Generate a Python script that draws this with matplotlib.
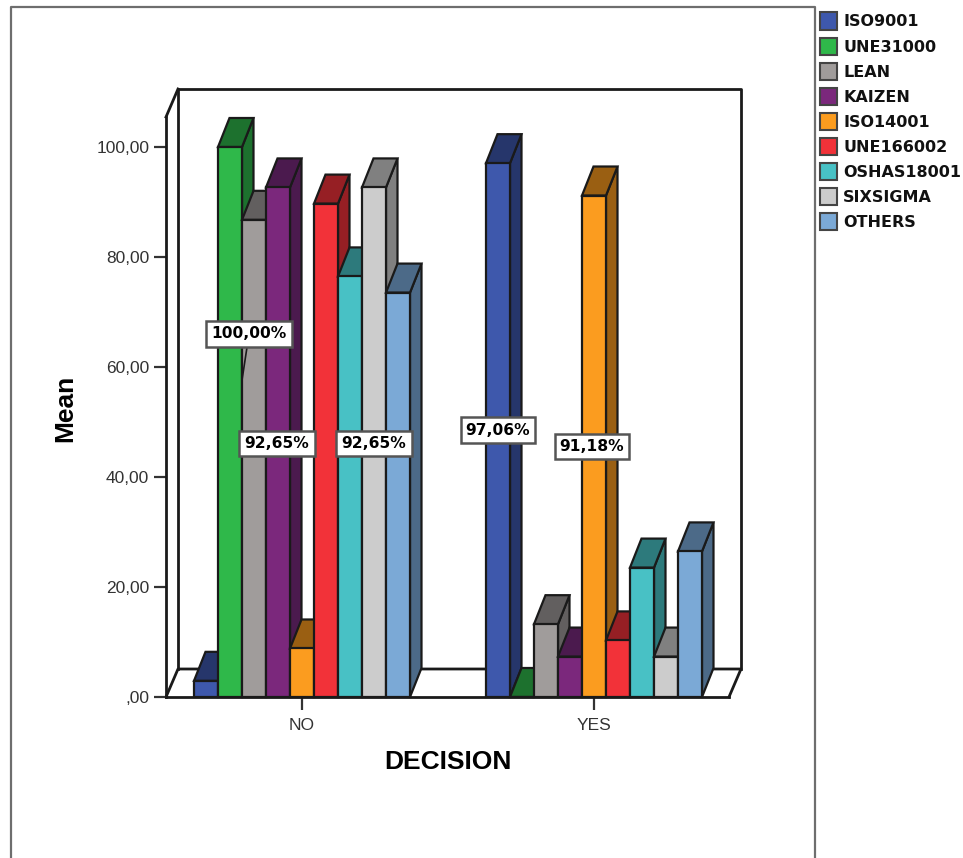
import matplotlib
matplotlib.use("Agg")
import matplotlib.pyplot as plt
from matplotlib.patches import Polygon, Rectangle
from matplotlib.lines import Line2D

W, H = 963, 858

categories = ["NO", "YES"]
series = ["ISO9001", "UNE31000", "LEAN", "KAIZEN", "ISO14001",
          "UNE166002", "OSHAS18001", "SIXSIGMA", "OTHERS"]
no_values = [2.94, 100.0, 86.76, 92.65, 8.82, 89.71, 76.47, 92.65, 73.53]
yes_values = [97.06, 0.0, 13.24, 7.35, 91.18, 10.29, 23.53, 7.35, 26.47]
front_colors = ["#3E58AC", "#2FB84A", "#A09C9B", "#7B287C", "#FB9C1F",
                "#F23239", "#48C1C5", "#CCCCCC", "#7BA9D6"]
dark_colors = ["#26366B", "#1D712E", "#625F5F", "#4B1A4E", "#9A5F12",
               "#961F24", "#2D7A7C", "#808080", "#4C6A88"]
y_ticks = [0, 20, 40, 60, 80, 100]
y_tick_labels = [",00", "20,00", "40,00", "60,00", "80,00", "100,00"]

LINE = "#1a1a1a"


def fig_box(left, top, right, bottom):
    return [left / W, 1 - bottom / H, (right - left) / W, (bottom - top) / H]


fig = plt.figure(figsize=(W / 100, H / 100), dpi=100, facecolor="white")
plt.rcParams["font.family"] = "Liberation Sans"

# outer frame of the chart area, runs off the bottom of the picture
fig.add_artist(Line2D([11 / W, 11 / W, 815 / W, 815 / W],
                      [0, 1 - 7 / H, 1 - 7 / H, 0],
                      color="#6e6e6e", lw=1.6))

ax = fig.add_axes(fig_box(166, 117, 729, 697))
ax.set_xlim(-136 / 292, 427 / 292)
ax.set_ylim(0, 580 / 5.5)
ax.patch.set_alpha(0)
for name in ["top", "right"]:
    ax.spines[name].set_visible(False)
for name in ["left", "bottom"]:
    ax.spines[name].set_linewidth(2)
    ax.spines[name].set_color(LINE)

ax.set_xticks(range(len(categories)))
ax.set_xticklabels(categories)
ax.set_yticks(y_ticks)
ax.set_yticklabels(y_tick_labels)
ax.tick_params(axis="both", labelsize=12.5, width=1.6, length=9, color="#333333",
               labelcolor="#333333", pad=3)
ax.tick_params(axis="x", length=9, pad=6, labelsize=12.5)
ax.set_xlabel("DECISION", fontsize=19, fontweight="bold")
ax.xaxis.set_label_coords((448 - 166) / 563, -(762 - 697) / 580)
ax.xaxis.label.set_verticalalignment("center")
ax.set_ylabel("Mean", fontsize=19, fontweight="bold")
ax.yaxis.set_label_coords((65 - 166) / 563, (697 - 408) / 580)
ax.yaxis.label.set_verticalalignment("center")

# depth of the 3D look, in data units
xlim0, xlim1 = ax.get_xlim()
ymax = ax.get_ylim()[1]
wall_dx = 12 / 292
wall_dy = 28 / 5.5
bar_dx = 11.5 / 292
bar_dy = 29 / 5.5
bar_w = 24 / 292

# back wall and floor
wall_style = dict(color=LINE, lw=2, clip_on=False, zorder=1)
ax.plot([xlim0 + wall_dx, xlim0 + wall_dx, xlim1 + wall_dx, xlim1 + wall_dx],
        [wall_dy, ymax + wall_dy, ymax + wall_dy, wall_dy], **wall_style)
ax.plot([xlim0, xlim0 + wall_dx, xlim1 + wall_dx, xlim1],
        [0, wall_dy, wall_dy, 0], **wall_style)
ax.plot([xlim0, xlim0 + wall_dx], [ymax, ymax + wall_dy], **wall_style)


def draw_bar(x, value, front, dark, z):
    edge = dict(edgecolor=LINE, lw=1.6, clip_on=False, zorder=z,
                joinstyle="miter")
    ax.add_patch(Polygon([(x, 0), (x + bar_dx, bar_dy),
                          (x + bar_dx, value + bar_dy), (x, value)],
                         facecolor=dark, **edge))
    ax.add_patch(Polygon([(x - bar_w, value), (x, value),
                          (x + bar_dx, value + bar_dy),
                          (x - bar_w + bar_dx, value + bar_dy)],
                         facecolor=dark, **edge))
    ax.bar(x - bar_w / 2, value, bar_w, color=front, edgecolor=LINE, lw=1.6,
           zorder=z, clip_on=False)


z = 2
for pos, values in enumerate([no_values, yes_values]):
    for i, value in enumerate(values):
        # right edge of bar i inside the cluster
        x = pos + (i - len(values) / 2 + 1) * bar_w
        draw_bar(x, value, front_colors[i], dark_colors[i], z)
        z += 1


def bar_center(pos, i):
    return pos + (i - len(series) / 2 + 0.5) * bar_w


box = dict(boxstyle="square,pad=0.33", facecolor="white", edgecolor="#555555",
           lw=1.8)
label_style = dict(ha="center", va="center", fontsize=11.2, fontweight="bold",
                   family="DejaVu Sans", bbox=box, zorder=60)

ax.text(bar_center(0, 3) - 1 / 292, no_values[3] / 2 - 0.2, "92,65%", **label_style)
ax.text(bar_center(0, 7), no_values[7] / 2 - 0.2, "92,65%", **label_style)
ax.text(bar_center(1, 0), yes_values[0] / 2, "97,06%", **label_style)
ax.text(bar_center(1, 4) - 2 / 292, yes_values[4] / 2, "91,18%", **label_style)
# the 100% label was moved by hand in the original, with a leader line
ax.annotate("100,00%", xy=(bar_center(0, 1) + 12 / 292, 57.6),
            xytext=(bar_center(0, 1) + 19 / 292, 66), annotation_clip=False,
            arrowprops=dict(arrowstyle="-", color=LINE, lw=1.2,
                            shrinkA=0, shrinkB=0), **label_style)

# legend
for i, name in enumerate(series):
    yc = 21 + i * 25.1
    fig.add_artist(Rectangle((820 / W, 1 - (yc + 8.5) / H), 17 / W, 17 / H,
                             facecolor=front_colors[i], edgecolor="#444444",
                             lw=1.5, transform=fig.transFigure))
    fig.text(843 / W, 1 - (yc + 1) / H, name, fontsize=11.5, fontweight="bold",
             family="DejaVu Sans", va="center", ha="left", color="#111111")

fig.savefig("out.png", dpi=100)
